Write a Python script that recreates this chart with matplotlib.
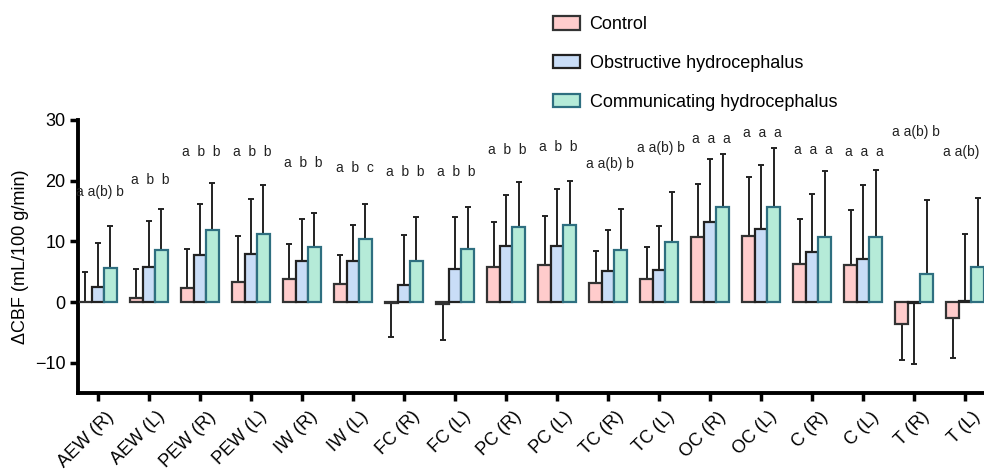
import numpy as np
import matplotlib
matplotlib.use("Agg")
import matplotlib.pyplot as plt
import matplotlib.transforms as mtransforms

plt.rcParams['font.family'] = ['Liberation Sans', 'DejaVu Sans']

regions = ["AEW (R)", "AEW (L)", "PEW (R)", "PEW (L)", "IW (R)", "IW (L)",
           "FC (R)", "FC (L)", "PC (R)", "PC (L)", "TC (R)", "TC (L)",
           "OC (R)", "OC (L)", "C (R)", "C (L)", "T (R)", "T (L)"]

control = [0.0, 0.7, 2.3, 3.3, 3.75, 3.0, -0.1, -0.3, 5.7, 6.1, 3.1, 3.8,
           10.7, 10.9, 6.3, 6.1, -3.6, -2.6]
control_sd = [5.0, 4.8, 6.4, 7.5, 5.85, 4.7, 5.7, 5.9, 7.5, 8.1, 5.3, 5.3,
              8.8, 9.7, 7.3, 9.0, 5.9, 6.7]

obstructive = [2.5, 5.7, 7.7, 7.9, 6.8, 6.8, 2.8, 5.5, 9.2, 9.3, 5.1, 5.35,
               13.2, 12.0, 8.3, 7.1, -0.15, 0.2]
obstructive_sd = [7.3, 7.7, 8.4, 9.1, 6.9, 5.9, 8.2, 8.5, 8.5, 9.4, 6.7, 7.25,
                  10.3, 10.5, 9.5, 12.2, 10.15, 11.0]

communicating = [5.6, 8.6, 11.8, 11.2, 9.1, 10.4, 6.7, 8.7, 12.4, 12.7, 8.6, 9.9,
                 15.6, 15.7, 10.7, 10.7, 4.6, 5.7]
communicating_sd = [6.9, 6.7, 7.8, 8.1, 5.5, 5.7, 7.3, 6.9, 7.4, 7.3, 6.7, 8.2,
                    8.8, 9.7, 10.9, 11.1, 12.2, 11.4]

letters = ["a a(b) b", "a  b  b", "a  b  b", "a  b  b", "a  b  b", "a  b  c",
           "a  b  b", "a  b  b", "a  b  b", "a  b  b", "a a(b) b", "a a(b) b",
           "a  a  a", "a  a  a", "a  a  a", "a  a  a", "a a(b) b", "a a(b) b"]
letter_y = [18.2, 20.1, 24.8, 24.8, 22.9, 22.1, 21.5, 21.5, 25.1, 25.6, 22.8, 25.4,
            26.8, 27.8, 25.0, 24.7, 28.0, 24.8]

groups = ["Control", "Obstructive hydrocephalus", "Communicating hydrocephalus"]
fills = ["#FFCCCC", "#C9DDF7", "#B5EBD8"]
edges = ["#333333", "#222222", "#2E6F80"]

fig = plt.figure(figsize=(9.84, 4.70), dpi=100)
ax = fig.add_axes([0.0793, 0.1638, 0.9207, 0.5809])

x = np.arange(len(regions))
w = 0.245
series = [(control, control_sd), (obstructive, obstructive_sd),
          (communicating, communicating_sd)]
for i, (vals, sds) in enumerate(series):
    vals = np.array(vals)
    sds = np.array(sds)
    pos = x + (i - 1) * w
    # error bars only point away from zero
    lower = np.where(vals < 0, sds, 0)
    upper = np.where(vals >= 0, sds, 0)
    ax.errorbar(pos, vals, yerr=[lower, upper], fmt='none', ecolor='#222222',
                elinewidth=1.4, capsize=2, capthick=1.4, zorder=2)
    ax.bar(pos, vals, width=w, color=fills[i], edgecolor=edges[i],
           linewidth=1.6, label=groups[i], zorder=3)

for xi, txt, yi in zip(x, letters, letter_y):
    ax.text(xi + 0.03, yi, txt, ha='center', va='center', fontsize=10,
            color='#222222', clip_on=False)

ax.set_xlim(-0.39, 17.37)
ax.set_ylim(-15, 30)
ax.set_yticks([-10, 0, 10, 20, 30])
ax.set_yticklabels(["\u221210", "0", "10", "20", "30"])
ax.set_xticks(x)
ax.set_xticklabels(regions, rotation=45, ha='right', rotation_mode='anchor')
ax.tick_params(axis='both', width=2.5, length=6, labelsize=13, pad=3)
ax.tick_params(axis='x', pad=5)
shift = mtransforms.ScaledTranslation(5 / 72, 0, fig.dpi_scale_trans)
for lab in ax.get_xticklabels():
    lab.set_transform(lab.get_transform() + shift)
for s in ['top', 'right']:
    ax.spines[s].set_visible(False)
for s in ['left', 'bottom']:
    ax.spines[s].set_linewidth(2.8)
ax.set_ylabel("\u0394CBF (mL/100 g/min)", fontsize=13, labelpad=4)

fig.legend(loc='upper left', bbox_to_anchor=(0.545, 1.0), frameon=False,
           fontsize=13, labelspacing=1.2, handlelength=1.5, handleheight=0.75,
           handletextpad=0.55)

fig.savefig("out.png", dpi=100)
